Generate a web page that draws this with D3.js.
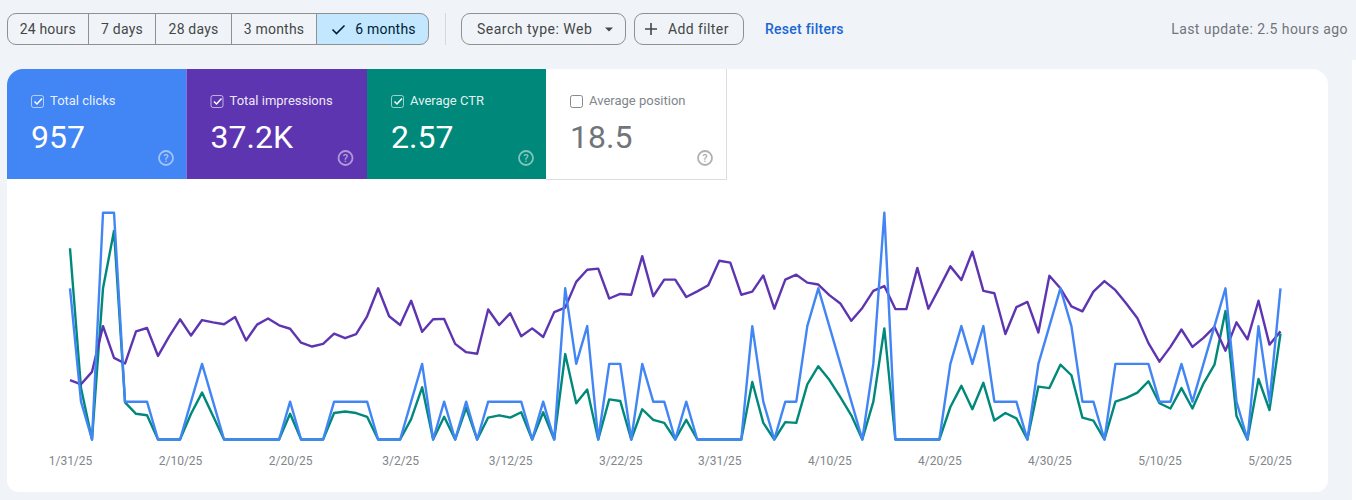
<!DOCTYPE html>
<html>
<head>
<meta charset="utf-8">
<script src="https://cdn.jsdelivr.net/npm/d3@7"></script>
<style>
    html, body { margin: 0; padding: 0; background: #f0f4f9; overflow: hidden; }
    svg { display: block; font-family: Roboto, sans-serif; }
    .tick-axis .domain, .tick-axis line { display: none; }
    .tick-axis text { font-family: Roboto, sans-serif; font-size: 12px; fill: #80868b; }
</style>
</head>
<body>
<svg id="chart" width="1356" height="500"></svg>
<script>
// values, one per day starting 1/31/25
const clicks = [
    4, 1, 0, 6, 6, 1, 1, 1, 0, 0, 0, 1, 2, 1, 0, 0, 0, 0, 0, 0,
    1, 0, 0, 0, 1, 1, 1, 1, 0, 0, 0, 1, 2, 0, 1, 0, 1, 0, 1, 1,
    1, 1, 0, 1, 0, 4, 2, 3, 0, 2, 2, 0, 2, 1, 1, 0, 1, 0, 0, 0,
    0, 0, 3, 1, 0, 1, 1, 3, 4, 3, 2, 1, 0, 2, 6, 0, 0, 0, 0, 0,
    2, 3, 2, 3, 1, 1, 1, 0, 2, 3, 4, 3, 1, 1, 0, 2, 2, 2, 2, 1,
    1, 2, 1, 2, 3, 4, 1, 0, 3, 1, 4
];
const impressions = [
    157, 146, 179, 300, 216, 201, 286, 295, 221, 272, 318, 275, 316, 310, 305, 324, 262, 304, 320, 302,
    293, 256, 246, 253, 280, 268, 279, 326, 400, 326, 303, 367, 285, 318, 319, 253, 231, 227, 344, 303,
    334, 273, 294, 271, 337, 349, 417, 449, 452, 373, 385, 383, 485, 379, 423, 423, 377, 392, 408, 473,
    468, 383, 391, 434, 346, 423, 436, 415, 410, 382, 360, 314, 348, 393, 406, 345, 345, 454, 346, 401,
    458, 422, 497, 393, 387, 279, 350, 364, 283, 433, 400, 352, 339, 391, 419, 395, 359, 321, 255, 206,
    245, 291, 245, 269, 298, 235, 310, 265, 367, 251, 286
];
const ctr = [
    2.53, 0.68, 0, 2.00, 2.76, 0.49, 0.34, 0.32, 0, 0, 0, 0.34, 0.62, 0.31, 0, 0, 0, 0, 0, 0,
    0.34, 0, 0, 0, 0.35, 0.37, 0.35, 0.30, 0, 0, 0, 0.27, 0.69, 0, 0.30, 0, 0.42, 0, 0.29, 0.32,
    0.29, 0.36, 0, 0.36, 0, 1.13, 0.48, 0.66, 0, 0.53, 0.51, 0, 0.40, 0.26, 0.22, 0, 0.26, 0, 0, 0,
    0, 0, 0.76, 0.22, 0, 0.23, 0.22, 0.73, 0.97, 0.79, 0.56, 0.32, 0, 0.50, 1.47, 0, 0, 0, 0, 0,
    0.43, 0.71, 0.40, 0.75, 0.25, 0.35, 0.28, 0, 0.70, 0.68, 0.99, 0.85, 0.29, 0.25, 0, 0.50, 0.55, 0.62, 0.77, 0.48,
    0.41, 0.68, 0.41, 0.74, 0.99, 1.70, 0.31, 0, 0.80, 0.39, 1.40
];
const tickDates = [
    "1/31/25", "2/10/25", "2/20/25", "3/2/25", "3/12/25", "3/22/25",
    "3/31/25", "4/10/25", "4/20/25", "4/30/25", "5/10/25", "5/20/25"
];
const rangeLabels = ["24 hours", "7 days", "28 days", "3 months", "6 months"];
const metricNames = ["Total clicks", "Total impressions", "Average CTR", "Average position"];
const metricValues = ["957", "37.2K", "2.57", "18.5"];

const BLUE = "#4285f4", PURPLE = "#5e35b1", GREEN = "#00897b";
const TEXT = "#444746", OUTLINE = "#8e918f";

const svg = d3.select("#chart");
const defs = svg.append("defs");

// card
const cardClip = "M7,85a16,16 0 0 1 16,-16H1312a16,16 0 0 1 16,16V480a12,12 0 0 1 -12,12H19a12,12 0 0 1 -12,-12Z";
defs.append("clipPath").attr("id", "card").append("path").attr("d", cardClip);
svg.append("path").attr("d", cardClip).attr("fill", "#fff");
svg.append("rect").attr("x", 1352).attr("y", 60).attr("width", 4).attr("height", 440).attr("fill", "#fff");

// range selector
const rangeEdges = [7, 88.5, 155.5, 231.5, 316.5, 428.5];
const toolbar = svg.append("g");
toolbar.append("rect").attr("x", 316.5).attr("y", 13.5).attr("width", 108).attr("height", 31).attr("fill", "#c2e7ff");
toolbar.append("path")
    .attr("d", "M410,13.5h10a8.5,8.5 0 0 1 8.5,8.5v14a8.5,8.5 0 0 1 -8.5,8.5h-10Z")
    .attr("fill", "#c2e7ff");
toolbar.append("rect").attr("x", 7.5).attr("y", 13.5).attr("width", 421).attr("height", 31).attr("rx", 8.5)
    .attr("fill", "none").attr("stroke", OUTLINE);
toolbar.selectAll("line.sep").data(rangeEdges.slice(1, 5)).join("line")
    .attr("x1", d => d).attr("x2", d => d).attr("y1", 13.5).attr("y2", 44.5)
    .attr("stroke", OUTLINE);
toolbar.selectAll("text.range").data(rangeLabels).join("text")
    .attr("x", (d, i) => i === 4 ? 385.5 : (rangeEdges[i] + rangeEdges[i + 1]) / 2)
    .attr("y", 34).attr("text-anchor", "middle")
    .attr("font-size", 14).attr("letter-spacing", 0.2).attr("fill", (d, i) => i === 4 ? "#001d35" : TEXT)
    .text(d => d);
toolbar.append("path").attr("d", "M332.5,29.5l4,4l8,-8").attr("fill", "none").attr("stroke", "#001d35").attr("stroke-width", 1.6);

// filters
toolbar.append("rect").attr("x", 445).attr("y", 13).attr("width", 1).attr("height", 32).attr("fill", "#d5d9dd");
toolbar.append("rect").attr("x", 461.5).attr("y", 13.5).attr("width", 164).attr("height", 31).attr("rx", 8.5)
    .attr("fill", "none").attr("stroke", OUTLINE);
toolbar.append("text").attr("x", 477).attr("y", 34).attr("font-size", 14).attr("letter-spacing", 0.5).attr("fill", TEXT).text("Search type: Web");
toolbar.append("path").attr("d", "M605,27.5h8l-4,4Z").attr("fill", TEXT);
toolbar.append("rect").attr("x", 634.5).attr("y", 13.5).attr("width", 109).attr("height", 31).attr("rx", 8.5)
    .attr("fill", "none").attr("stroke", OUTLINE);
toolbar.append("path").attr("d", "M651,23v12M645,29h12").attr("stroke", TEXT).attr("stroke-width", 1.6);
toolbar.append("text").attr("x", 668).attr("y", 34).attr("font-size", 14).attr("letter-spacing", 0.4).attr("fill", TEXT).text("Add filter");
toolbar.append("text").attr("x", 765).attr("y", 34).attr("font-size", 14).attr("font-weight", 500).attr("letter-spacing", 0.25).attr("fill", "#1a66d2").text("Reset filters");
toolbar.append("text").attr("x", 1348).attr("y", 34).attr("text-anchor", "end").attr("font-size", 14).attr("letter-spacing", 0.43).attr("fill", "#70757a").text("Last update: 2.5 hours ago");

// metric tiles
const tileX = [7, 186.5, 367, 546, 726];
const tileFill = [BLUE, PURPLE, GREEN, "#fff"];
const tiles = svg.append("g").attr("clip-path", "url(#card)")
    .selectAll("g").data(metricNames).join("g")
    .attr("transform", (d, i) => `translate(${tileX[i]},69)`);
tiles.append("rect")
    .attr("width", (d, i) => tileX[i + 1] - tileX[i]).attr("height", 110)
    .attr("fill", (d, i) => tileFill[i]);
tiles.filter((d, i) => i === 3).append("path")
    .attr("d", "M0,110.5H180.5V0").attr("fill", "none").attr("stroke", "#dadce0");

const ink = i => i === 3 ? "#5f6368" : "#fff";
tiles.append("rect").attr("x", 24.5).attr("y", 26.5).attr("width", 12).attr("height", 12).attr("rx", 2)
    .attr("fill", "none").attr("stroke", (d, i) => ink(i)).attr("stroke-opacity", (d, i) => i === 3 ? 0.75 : 0.6);
tiles.filter((d, i) => i < 3).append("path")
    .attr("d", "M27.5,32.5l2.5,2.5l5,-5.5").attr("fill", "none").attr("stroke", "#fff").attr("stroke-width", 1.5);
tiles.append("text").attr("x", (d, i) => i === 1 ? 43 : 43).attr("y", 36).attr("font-size", 13)
    .attr("fill", (d, i) => i === 3 ? "#80868b" : "#fff").attr("fill-opacity", (d, i) => i === 3 ? 1 : 0.9).text(d => d);
tiles.append("text").data(metricValues).attr("x", 24).attr("y", 78.5).attr("font-size", 32)
    .attr("fill", (d, i) => i === 3 ? "#70757a" : "#fff").text(d => d);
tiles.append("circle").attr("cx", 159).attr("cy", 89).attr("r", 7)
    .attr("fill", "none").attr("stroke", (d, i) => ink(i)).attr("stroke-opacity", 0.5).attr("stroke-width", 1.8);
tiles.append("text").attr("x", 159).attr("y", 93).attr("text-anchor", "middle").attr("font-size", 11).attr("font-weight", 500)
    .attr("fill", (d, i) => ink(i)).attr("fill-opacity", 0.55).text("?");

// plot
const parseTick = d3.utcParse("%-m/%-d/%y");
const formatTick = d3.utcFormat("%-m/%-d/%y");
const dates = clicks.map((d, i) => d3.utcDay.offset(parseTick(tickDates[0]), i));

const x = d3.scaleUtc().domain(d3.extent(dates)).range([70, 1280.5]);
const yBottom = 439.5, yTop = 212.7;
const yClicks = d3.scaleLinear().domain([0, 6]).range([yBottom, yTop]);
const yImpressions = d3.scaleLinear().domain([0, 600]).range([yBottom, yTop]);
const yCtr = d3.scaleLinear().domain([0, 3]).range([yBottom, yTop]);

const drawLine = (values, y, color) => svg.append("path")
    .datum(values)
    .attr("fill", "none")
    .attr("stroke", color)
    .attr("stroke-width", 2.4)
    .attr("stroke-linejoin", "round")
    .attr("d", d3.line().x((d, i) => x(dates[i])).y(d => y(d)));

drawLine(ctr, yCtr, GREEN);
drawLine(impressions, yImpressions, PURPLE);
drawLine(clicks, yClicks, BLUE);

svg.append("g")
    .attr("class", "tick-axis")
    .attr("transform", "translate(0,456)")
    .call(d3.axisBottom(x)
        .tickValues(tickDates.map(parseTick))
        .tickFormat(formatTick)
        .tickSize(0)
        .tickPadding(0));
</script>
</body>
</html>
